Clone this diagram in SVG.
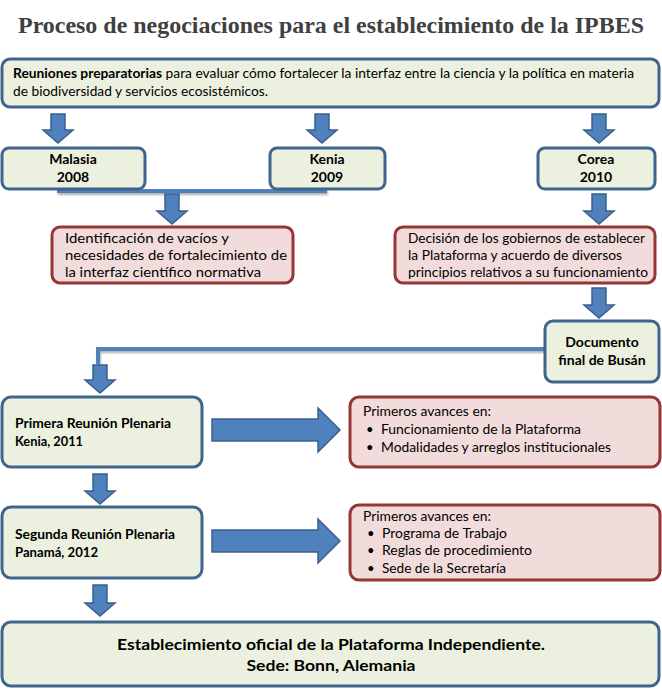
<svg xmlns="http://www.w3.org/2000/svg" width="662" height="689" viewBox="0 0 662 689">
<defs>
<style>
.g{fill:#EBF1DE;stroke:#41648F;stroke-width:3}
.r{fill:#F2DCDB;stroke:#953735;stroke-width:3}
.ar{fill:#4F81BD;stroke:#3A5F8C;stroke-width:1.5}
.t{font-family:Lato,"Open Sans",sans-serif;font-size:13px;fill:#000}
.tb{font-family:Lato,"Open Sans",sans-serif;font-size:13px;font-weight:bold;fill:#000}
.tb14{font-family:Lato,"Open Sans",sans-serif;font-size:14px;font-weight:bold;fill:#000}
.tm{font-family:Lato,"Open Sans",sans-serif;font-size:14px;fill:#000}
.tf{font-family:Lato,"Open Sans",sans-serif;font-size:16px;font-weight:bold;fill:#000}
.title{font-family:"Liberation Serif",serif;font-size:23px;font-weight:bold;fill:#404040}
.ln{fill:none;stroke:#4F81BD;stroke-width:4}
</style>
</defs>
<rect width="662" height="689" fill="#fff"/>
<text class="title" x="331" y="33" text-anchor="middle" textLength="626" lengthAdjust="spacingAndGlyphs">Proceso de negociaciones para el establecimiento de la IPBES</text>

<g id="connectors">
<path class="ln" d="M57,191 H327" style="filter:drop-shadow(1px 2px 1px rgba(0,0,0,0.3))"/>
<path class="ln" d="M545,349 H98 V364" style="filter:drop-shadow(1px 2px 1px rgba(0,0,0,0.3))"/>
<path class="ar" d="M51,114 H65 V130 H73 L58,143 L43,130 H51 Z"/>
<path class="ar" d="M315,114 H329 V130 H337 L322,143 L307,130 H315 Z"/>
<path class="ar" d="M592,114 H606 V130 H614 L599,143 L584,130 H592 Z"/>
<path class="ar" d="M165,194 H179 V211 H187 L172,224 L157,211 H165 Z"/>
<path class="ar" d="M592,194 H606 V211 H614 L599,224 L584,211 H592 Z"/>
<path class="ar" d="M592,288 H606 V305 H614 L599,318 L584,305 H592 Z"/>
<path class="ar" d="M93,365 H107 V380 H115 L100,393 L85,380 H93 Z"/>
<path class="ar" d="M93,474 H107 V491 H115 L100,504 L85,491 H93 Z"/>
<path class="ar" d="M93,585 H107 V603 H115 L100,616 L85,603 H93 Z"/>
<path class="ar" d="M212,419 H318 V408 L340,430 L318,452 V441 H212 Z"/>
<path class="ar" d="M212,530 H318 V519 L340,541 L318,563 V552 H212 Z"/>
</g>

<g id="top">
<rect class="g" x="2" y="59" width="657" height="48" rx="8"/>
<text class="t" x="13" y="78" textLength="621" lengthAdjust="spacingAndGlyphs"><tspan font-weight="bold">Reuniones preparatorias</tspan> para evaluar cómo fortalecer la interfaz entre la ciencia y la política en materia</text>
<text class="t" x="13" y="96" textLength="255" lengthAdjust="spacingAndGlyphs">de biodiversidad y servicios ecosistémicos.</text>
</g>

<g id="malasia">
<rect class="g" x="2" y="148" width="143" height="41" rx="7"/>
<text class="tb14" x="73" y="164" text-anchor="middle">Malasia</text>
<text class="tb14" x="73" y="182" text-anchor="middle">2008</text>
</g>
<g id="kenia">
<rect class="g" x="270" y="148" width="115" height="41" rx="7"/>
<text class="tb14" x="327" y="164" text-anchor="middle">Kenia</text>
<text class="tb14" x="327" y="182" text-anchor="middle">2009</text>
</g>
<g id="corea">
<rect class="g" x="538" y="148" width="117" height="41" rx="7"/>
<text class="tb14" x="596" y="164" text-anchor="middle">Corea</text>
<text class="tb14" x="596" y="182" text-anchor="middle">2010</text>
</g>

<g id="identificacion">
<rect class="r" x="52" y="227" width="241" height="56" rx="8"/>
<text class="tm" x="65" y="243" textLength="164" lengthAdjust="spacingAndGlyphs">Identificación de vacíos y</text>
<text class="tm" x="65" y="260" textLength="222" lengthAdjust="spacingAndGlyphs">necesidades de fortalecimiento de</text>
<text class="tm" x="65" y="277" textLength="196" lengthAdjust="spacingAndGlyphs">la interfaz científico normativa</text>
</g>

<g id="decision">
<rect class="r" x="395" y="227" width="260" height="56" rx="8"/>
<text class="t" x="408" y="243" textLength="237" lengthAdjust="spacingAndGlyphs">Decisión de los gobiernos de establecer</text>
<text class="t" x="408" y="260" textLength="214" lengthAdjust="spacingAndGlyphs">la Plataforma y acuerdo de diversos</text>
<text class="t" x="408" y="277" textLength="240" lengthAdjust="spacingAndGlyphs">principios relativos a su funcionamiento</text>
</g>

<g id="documento">
<rect class="g" x="545" y="321" width="114" height="61" rx="8"/>
<text class="tb14" x="602" y="347" text-anchor="middle">Documento</text>
<text class="tb14" x="602" y="365" text-anchor="middle">final de Busán</text>
</g>

<g id="primera">
<rect class="g" x="2" y="397" width="200" height="70" rx="9"/>
<text class="tb" x="15" y="428" textLength="156" lengthAdjust="spacingAndGlyphs">Primera Reunión Plenaria</text>
<text class="tb" x="15" y="446" textLength="68" lengthAdjust="spacingAndGlyphs">Kenia, 2011</text>
</g>

<g id="avances1">
<rect class="r" x="350" y="397" width="310" height="70" rx="9"/>
<text class="t" x="363" y="416" textLength="128" lengthAdjust="spacingAndGlyphs">Primeros avances en:</text>
<text class="t" x="366" y="434">•</text>
<text class="t" x="381" y="434" textLength="200" lengthAdjust="spacingAndGlyphs">Funcionamiento de la Plataforma</text>
<text class="t" x="366" y="452">•</text>
<text class="t" x="381" y="452" textLength="230" lengthAdjust="spacingAndGlyphs">Modalidades y arreglos institucionales</text>
</g>

<g id="segunda">
<rect class="g" x="2" y="507" width="200" height="71" rx="9"/>
<text class="tb" x="15" y="539" textLength="160" lengthAdjust="spacingAndGlyphs">Segunda Reunión Plenaria</text>
<text class="tb" x="15" y="557" textLength="83" lengthAdjust="spacingAndGlyphs">Panamá, 2012</text>
</g>

<g id="avances2">
<rect class="r" x="350" y="505" width="310" height="75" rx="9"/>
<text class="t" x="363" y="521" textLength="128" lengthAdjust="spacingAndGlyphs">Primeros avances en:</text>
<text class="t" x="367" y="538">•</text>
<text class="t" x="382" y="538" textLength="125" lengthAdjust="spacingAndGlyphs">Programa de Trabajo</text>
<text class="t" x="367" y="555">•</text>
<text class="t" x="382" y="555" textLength="150" lengthAdjust="spacingAndGlyphs">Reglas de procedimiento</text>
<text class="t" x="367" y="573">•</text>
<text class="t" x="382" y="573" textLength="124" lengthAdjust="spacingAndGlyphs">Sede de la Secretaría</text>
</g>

<g id="final">
<rect class="g" x="2" y="622" width="657" height="64" rx="9"/>
<text class="tf" x="331" y="650" text-anchor="middle" textLength="428" lengthAdjust="spacingAndGlyphs">Establecimiento oficial de la Plataforma Independiente.</text>
<text class="tf" x="331" y="671" text-anchor="middle" textLength="169" lengthAdjust="spacingAndGlyphs">Sede: Bonn, Alemania</text>
</g>
</svg>
